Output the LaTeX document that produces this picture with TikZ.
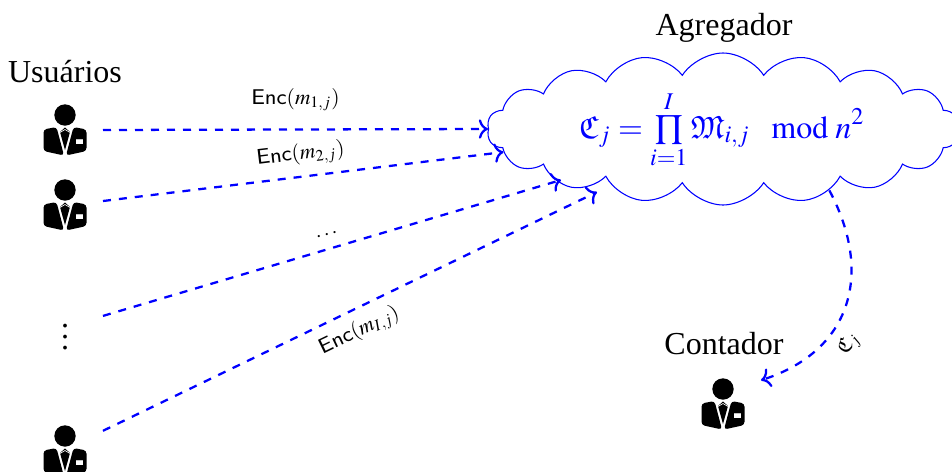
\documentclass[tikz,border=0pt]{standalone}
\usepackage{amsmath}
\usepackage{amsfonts}
\usepackage{mathptmx}
\usepackage[no-math]{fontspec}
\setmainfont{Liberation Serif}
\usepackage{tikz}
\usetikzlibrary{arrows.meta, positioning, shapes.symbols}

\begin{document}
\begin{tikzpicture}[x=0.375pt, y=-0.375pt,
    blank/.style={minimum width=76*0.375pt, minimum height=56*0.375pt, inner sep=0pt, outer sep=0pt},
    person/.style={blank,
        path picture={
            \begin{scope}[shift={(path picture bounding box.center)}]
            \fill (0,-15) circle (10.7);
            \fill[rounded corners=1.2pt] (-8.5,-3) -- (-21.5,-0.5) -- (-21.5,21) -- (-1,25.5) -- cycle;
            \fill[rounded corners=1.2pt] (8.5,-3) -- (21.5,-0.5) -- (21.5,21) -- (1,25.5) -- cycle;
            \fill[white] (-7.6,-4) -- (7.6,-4) -- (0,23) -- cycle;
            \fill (0,-2.5) -- (5,2) -- (0,20) -- (-5,2) -- cycle;
            \draw[white, line width=0.25pt] (-5,2.5) -- (0,-0.5) -- (5,2.5);
            \fill[white] (11,9.3) rectangle (18.3,14);
            \fill[gray!50] (11,9.3) rectangle (18.3,10.3);
            \end{scope}
        }},
    title/.style={font=\fontsize{12}{14}\selectfont, inner sep=0pt},
    lbl/.style={font=\fontsize{8}{10}\selectfont, text=black, inner sep=1.5pt},
    msg/.style={->, blue, dashed, line width=0.85pt},
]
\clip (0,0) rectangle (952,472);
\node[person] (u1) at (65,130) {};
\node[person] (u2) at (65,205) {};
\node[blank, font=\fontsize{12}{14}\selectfont] (dots) at (65,329) {$\vdots$};
\node[person] (u3) at (65,451) {};
\node[person] (cont) at (723,404) {};
\node[title, above=7.5pt of u1.north, anchor=base] (usu) {Usuários};
\node[title, anchor=base] (agr) at (724,35) {Agregador};
\node[title, anchor=base] (con) at (724,354) {Contador};
\node[draw=blue, shape=cloud, cloud puffs=18, cloud puff arc=115, aspect=3.1, minimum width=472*0.375pt, minimum height=152*0.375pt, inner sep=0pt, line width=0.4pt] (cloud) at (723,129) {};
\node[text=blue, font=\fontsize{12}{14}\selectfont, inner sep=0pt] (formula) at (722,130)
    {$\displaystyle\mathfrak{C}_j=\mathop{\vcenter{\hbox{\scalebox{0.72}{$\displaystyle\prod$}}}}_{i=1}^{I}\mathfrak{M}_{i,j}\mod{n^2}$};
\coordinate (in3) at ([shift={(-162,51)}]cloud.center);
\coordinate (in4) at ([shift={(-126,63)}]cloud.center);
\draw[msg] (u1.east) -- node[lbl, above=5pt] {\textsf{Enc}$(m_{1,j})$} (cloud.180);
\draw[msg] (u2.6) -- node[lbl, above=2pt, sloped] {\textsf{Enc}$(m_{2,j})$} (cloud.186);
\draw[msg] (dots.19) -- node[lbl, above=3pt, sloped] {$\dots$} (in3);
\draw[msg] (u3.28) -- node[lbl, below=2pt, sloped] {\textsf{Enc}$(m_{I,j})$} (in4);
\draw[msg] (cloud.330.4) to[out=-62, in=18, looseness=1.2] node[lbl, pos=0.64, below=2pt, sloped] {$\mathfrak{C}_j$} (cont.32);
\end{tikzpicture}
\end{document}
